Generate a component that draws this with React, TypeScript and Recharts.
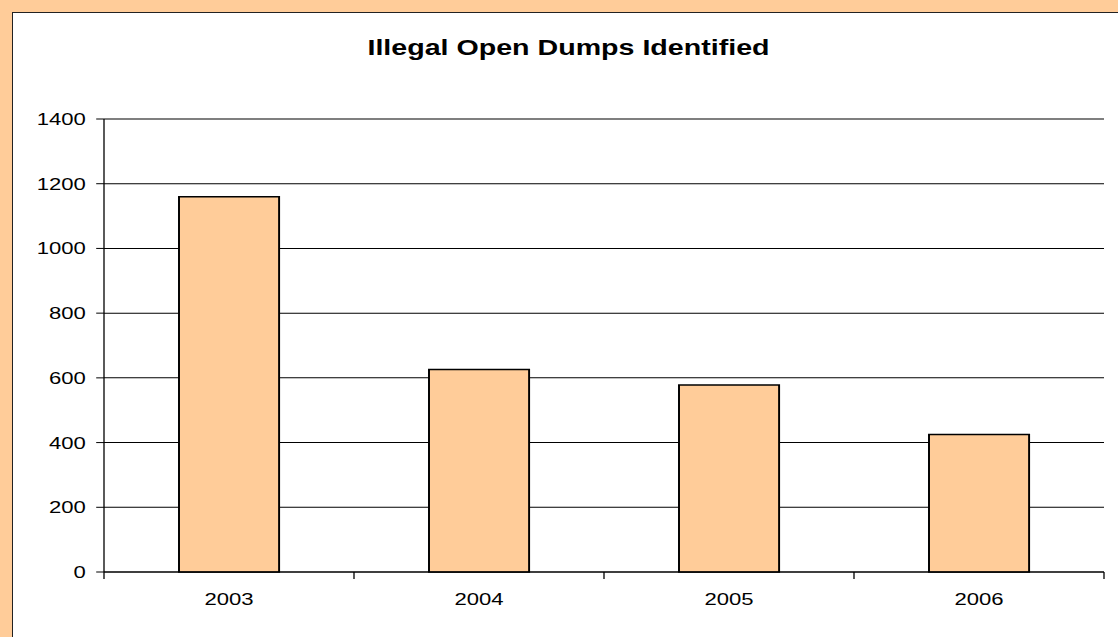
import React from 'react';
import { BarChart, Bar, XAxis, YAxis, CartesianGrid } from 'recharts';

const categories = ['2003', '2004', '2005', '2006'];
const dumpsIdentified = [1160, 626, 578, 425];
const yTicks = [0, 200, 400, 600, 800, 1000, 1200, 1400];
const title = 'Illegal Open Dumps Identified';

const data = categories.map((year, i) => ({ year, value: dumpsIdentified[i] }));

const SX = 1.3; // horizontal stretch of the reference
const FONT = '"Liberation Sans", Arial, sans-serif';

const XTick = (props: any) => {
  const { x, y, payload, index, visibleTicksCount } = props;
  const off = payload && payload.offset ? payload.offset : 0;
  const last = index === (visibleTicksCount ?? categories.length) - 1;
  return (
    <g>
      <line x1={x - off} x2={x - off} y1={y} y2={y + 7} stroke="#000" strokeWidth={1} />
      {last && <line x1={x + off} x2={x + off} y1={y} y2={y + 7} stroke="#000" strokeWidth={1} />}
      <text x={x} y={y + 21} dy="0.71em" textAnchor="middle" fontSize={17} fontFamily={FONT} fill="#000">
        {payload.value}
      </text>
    </g>
  );
};

export default function App() {
  const W = 1118 / SX;
  return (
    <div style={{ position: 'fixed', left: 0, top: 0, width: 1118, height: 637, background: '#FFCC99', overflow: 'hidden' }}>
      <div
        style={{
          position: 'absolute',
          left: 12,
          top: 12,
          right: 0,
          bottom: 0,
          background: '#fff',
          borderLeft: '1.5px solid #222',
          borderTop: '1.5px solid #222',
        }}
      />
      <div style={{ position: 'absolute', left: 0, top: 0, width: W, height: 637, transform: `scaleX(${SX})`, transformOrigin: '0 0' }}>
        <div
          style={{
            position: 'absolute',
            left: 0,
            top: 37,
            width: 2 * (568.5 / SX),
            textAlign: 'center',
            fontFamily: FONT,
            fontWeight: 'bold',
            fontSize: 22,
            lineHeight: '22px',
            color: '#000',
            whiteSpace: 'nowrap',
          }}
        >
          {title}
        </div>
        <BarChart
          width={W}
          height={637}
          data={data}
          margin={{ top: 119, right: W - 1104 / SX, bottom: 0, left: 0 }}
          barCategoryGap="30%"
          style={{ position: 'absolute', left: 0, top: 0 }}
        >
          <CartesianGrid horizontal={true} vertical={false} stroke="#000" strokeWidth={1} />
          <XAxis
            dataKey="year"
            height={65}
            tickLine={false}
            tickSize={0}
            tickMargin={0}
            axisLine={{ stroke: '#000', strokeWidth: 1 }}
            tick={<XTick />}
            interval={0}
          />
          <YAxis
            width={104 / SX}
            domain={[0, 1400]}
            ticks={yTicks}
            interval={0}
            tickSize={6}
            tickMargin={8}
            tickLine={{ stroke: '#000', strokeWidth: 1 }}
            axisLine={{ stroke: '#000', strokeWidth: 1 }}
            tick={{ fontSize: 17, fontFamily: FONT, fill: '#000' }}
          />
          <YAxis
            yAxisId="right"
            orientation="right"
            width={0}
            tick={false}
            tickLine={false}
            axisLine={{ stroke: '#000', strokeWidth: 1 }}
          />
          <Bar dataKey="value" fill="#FFCC99" stroke="#000" strokeWidth={1.5} isAnimationActive={false} />
        </BarChart>
      </div>
    </div>
  );
}
